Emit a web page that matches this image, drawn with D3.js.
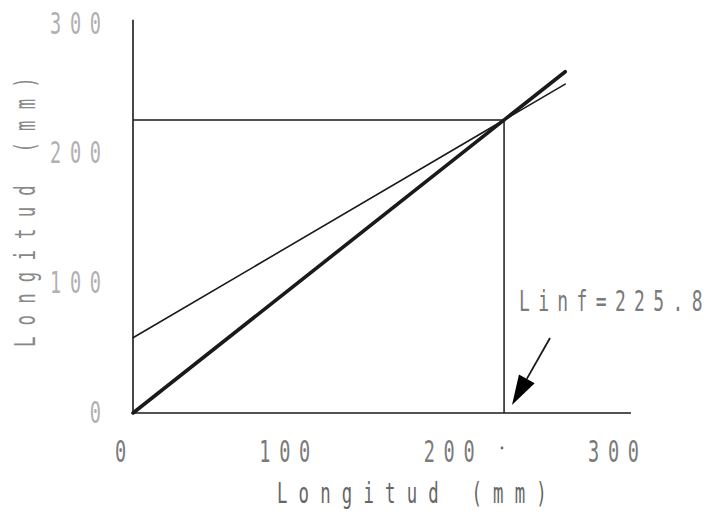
<!DOCTYPE html>
<html>
<head>
<meta charset="utf-8">
<script src="https://cdn.jsdelivr.net/npm/d3@7"></script>
<style>
  html, body { margin: 0; padding: 0; background: #fff; }
  svg { display: block; }
  text { font-family: "DejaVu Sans Mono", "Liberation Mono", monospace; }
</style>
</head>
<body>
<svg id="chart" width="708" height="513"></svg>
<script>
// Walford plot: length at t+1 against length at t
const xTicks = [0, 100, 200, 300];
const yTicks = [0, 100, 200, 300];
const axisTitle = "Longitud (mm)";
const lengthRange = [0, 263];        // range of lengths covered by the lines
const walfordIntercept = 58;        // a in L(t+1) = a + b·L(t)
const linf = 225.8;                 // asymptotic length, a / (1 - b)
const walfordSlope = 1 - walfordIntercept / linf;
const linfLabel = "Linf=225.8";
const axisMax = 303;

const svg = d3.select("#chart");
const x = d3.scaleLinear().domain([0, 300]).range([133, 626]);
const y = d3.scaleLinear().domain([0, 300]).range([413, 23.7]);

const ink = "#1a1a1a";
const SX = 0.62;   // narrow plotter-style lettering

// text helper: narrow, widely spaced monospace lettering
// (the last glyph carries no trailing spacing so anchors sit on the ink)
function label(parent, tx, ty, str, o) {
  const t = parent.append("text")
    .attr("transform", `translate(${tx},${ty}) ${o.rotate ? "rotate(-90)" : ""} scale(${SX},1)`)
    .attr("font-size", o.size)
    .attr("text-anchor", o.anchor || "start")
    .attr("fill", o.fill);
  if (str.length > 1) {
    t.append("tspan").attr("letter-spacing", o.ls).text(str.slice(0, -1));
  }
  t.append("tspan").attr("letter-spacing", 0).text(str.slice(-1));
  return t;
}

// axes
svg.append("line")
  .attr("x1", x(0)).attr("x2", x(0))
  .attr("y1", y(0)).attr("y2", y(axisMax))
  .attr("stroke", ink).attr("stroke-width", 1.6);
svg.append("line")
  .attr("x1", x(0)).attr("x2", x(axisMax))
  .attr("y1", y(0)).attr("y2", y(0))
  .attr("stroke", ink).attr("stroke-width", 1.6);

// tick labels
const gx = svg.append("g");
xTicks.forEach(d => label(gx, x(d) - 12.5, 462, String(d),
  { size: 30, ls: 14, anchor: "middle", fill: "#7a7a7a" }));

const gy = svg.append("g");
yTicks.forEach(d => label(gy, 101, y(d) + 10, String(d),
  { size: 30, ls: 14, anchor: "end", fill: "#b0b0b0" }));

// axis titles
label(svg, 277, 503, axisTitle, { size: 28, ls: 18, fill: "#666" });
label(svg, 35, 347, axisTitle, { size: 28, ls: 18, fill: "#888", rotate: true });

// Linf guide lines
svg.append("path")
  .attr("d", d3.line()([[x(0), y(linf)], [x(linf), y(linf)], [x(linf), y(0)]]))
  .attr("fill", "none").attr("stroke", ink).attr("stroke-width", 1.5);

// Walford regression line
const line = d3.line().x(d => x(d[0])).y(d => y(d[1]));
svg.append("path")
  .attr("d", line(lengthRange.map(v => [v, walfordIntercept + walfordSlope * v])))
  .attr("fill", "none").attr("stroke", ink).attr("stroke-width", 1.6)
  .attr("stroke-linecap", "round");

// identity line L(t+1) = L(t)
svg.append("path")
  .attr("d", line(lengthRange.map(v => [v, v])))
  .attr("fill", "none").attr("stroke", ink).attr("stroke-width", 3.6)
  .attr("stroke-linecap", "round");

// Linf annotation
label(svg, 519, 311, linfLabel, { size: 29, ls: 13.5, fill: "#7a7a7a" });

svg.append("circle")
  .attr("cx", 502).attr("cy", 448).attr("r", 1.4)
  .attr("fill", "#666");

// arrow pointing at the Linf foot
const ax0 = 550, ay0 = 338, ax1 = 512, ay1 = 405;
const ang = Math.atan2(ay1 - ay0, ax1 - ax0);
const headLen = 30, headHalf = 9;
const bx = ax1 - headLen * Math.cos(ang), by = ay1 - headLen * Math.sin(ang);
svg.append("line")
  .attr("x1", ax0).attr("y1", ay0).attr("x2", bx).attr("y2", by)
  .attr("stroke", ink).attr("stroke-width", 1.8);
svg.append("path")
  .attr("d", d3.line()([
    [ax1, ay1],
    [bx + headHalf * Math.sin(ang), by - headHalf * Math.cos(ang)],
    [bx - headHalf * Math.sin(ang), by + headHalf * Math.cos(ang)]
  ]) + "Z")
  .attr("fill", "#000");
</script>
</body>
</html>
